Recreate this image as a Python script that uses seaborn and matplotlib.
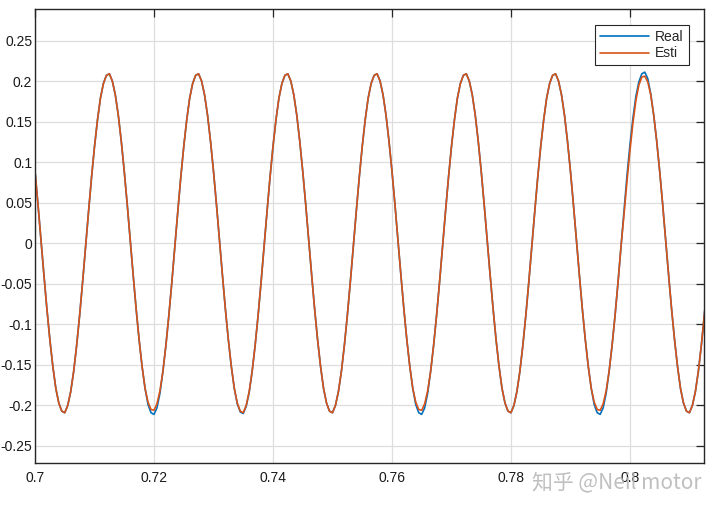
import numpy as np
import pandas as pd
import matplotlib
matplotlib.use("Agg")
import matplotlib.pyplot as plt
import seaborn as sns
from matplotlib.ticker import FuncFormatter

# time axis: one sample every 0.5 ms, from 0.700 s to 0.813 s
t_start = 0.700
t_step = 0.0005

# values, two lines per period (30 samples)
real = [
    0.089, 0.048, 0.004, -0.039, -0.081, -0.119, -0.152, -0.179, -0.197, -0.207, -0.209, -0.200, -0.183, -0.158, -0.126,
    -0.089, -0.048, -0.004, 0.039, 0.081, 0.119, 0.152, 0.179, 0.197, 0.207, 0.209, 0.200, 0.183, 0.158, 0.126,
    0.089, 0.048, 0.004, -0.039, -0.081, -0.119, -0.152, -0.179, -0.199, -0.209, -0.211, -0.203, -0.185, -0.158, -0.126,
    -0.089, -0.048, -0.004, 0.039, 0.081, 0.119, 0.152, 0.179, 0.197, 0.207, 0.209, 0.200, 0.183, 0.158, 0.126,
    0.089, 0.048, 0.004, -0.039, -0.081, -0.119, -0.152, -0.179, -0.198, -0.208, -0.210, -0.201, -0.184, -0.158, -0.126,
    -0.089, -0.048, -0.004, 0.039, 0.081, 0.119, 0.152, 0.179, 0.197, 0.207, 0.209, 0.200, 0.183, 0.158, 0.126,
    0.089, 0.048, 0.004, -0.039, -0.081, -0.119, -0.152, -0.179, -0.197, -0.207, -0.209, -0.200, -0.183, -0.158, -0.126,
    -0.089, -0.048, -0.004, 0.039, 0.081, 0.119, 0.152, 0.179, 0.197, 0.207, 0.209, 0.200, 0.183, 0.158, 0.126,
    0.089, 0.048, 0.004, -0.039, -0.081, -0.119, -0.152, -0.179, -0.199, -0.209, -0.211, -0.203, -0.185, -0.158, -0.126,
    -0.089, -0.048, -0.004, 0.039, 0.081, 0.119, 0.152, 0.179, 0.197, 0.207, 0.209, 0.200, 0.183, 0.158, 0.126,
    0.089, 0.048, 0.004, -0.039, -0.081, -0.119, -0.152, -0.179, -0.197, -0.207, -0.209, -0.200, -0.183, -0.158, -0.126,
    -0.089, -0.048, -0.004, 0.039, 0.081, 0.119, 0.152, 0.179, 0.197, 0.207, 0.209, 0.200, 0.183, 0.158, 0.126,
    0.089, 0.048, 0.004, -0.039, -0.081, -0.119, -0.152, -0.179, -0.199, -0.209, -0.211, -0.203, -0.185, -0.158, -0.126,
    -0.089, -0.048, -0.004, 0.041, 0.083, 0.121, 0.154, 0.181, 0.199, 0.209, 0.211, 0.203, 0.184, 0.158, 0.126,
    0.089, 0.048, 0.004, -0.039, -0.081, -0.119, -0.152, -0.179, -0.197, -0.207, -0.209, -0.200, -0.183, -0.158, -0.126,
    -0.089, -0.048,
]
esti = [
    0.089, 0.048, 0.004, -0.039, -0.081, -0.119, -0.152, -0.179, -0.197, -0.207, -0.209, -0.200, -0.183, -0.158, -0.126,
    -0.089, -0.048, -0.004, 0.039, 0.081, 0.119, 0.152, 0.179, 0.197, 0.207, 0.209, 0.200, 0.183, 0.158, 0.126,
    0.089, 0.048, 0.004, -0.039, -0.081, -0.119, -0.152, -0.179, -0.196, -0.205, -0.206, -0.198, -0.182, -0.158, -0.126,
    -0.089, -0.048, -0.004, 0.039, 0.081, 0.119, 0.152, 0.179, 0.197, 0.207, 0.209, 0.200, 0.183, 0.158, 0.126,
    0.089, 0.048, 0.004, -0.039, -0.081, -0.119, -0.152, -0.179, -0.197, -0.207, -0.209, -0.200, -0.183, -0.158, -0.126,
    -0.089, -0.048, -0.004, 0.039, 0.081, 0.119, 0.152, 0.179, 0.197, 0.207, 0.209, 0.200, 0.183, 0.158, 0.126,
    0.089, 0.048, 0.004, -0.039, -0.081, -0.119, -0.152, -0.179, -0.197, -0.207, -0.209, -0.200, -0.183, -0.158, -0.126,
    -0.089, -0.048, -0.004, 0.039, 0.081, 0.119, 0.152, 0.179, 0.197, 0.207, 0.209, 0.200, 0.183, 0.158, 0.126,
    0.089, 0.048, 0.004, -0.039, -0.081, -0.119, -0.152, -0.179, -0.196, -0.205, -0.206, -0.198, -0.182, -0.158, -0.126,
    -0.089, -0.048, -0.004, 0.039, 0.081, 0.119, 0.152, 0.179, 0.197, 0.207, 0.209, 0.200, 0.183, 0.158, 0.126,
    0.089, 0.048, 0.004, -0.039, -0.081, -0.119, -0.152, -0.179, -0.197, -0.207, -0.209, -0.200, -0.183, -0.158, -0.126,
    -0.089, -0.048, -0.004, 0.039, 0.081, 0.119, 0.152, 0.179, 0.197, 0.207, 0.209, 0.200, 0.183, 0.158, 0.126,
    0.089, 0.048, 0.004, -0.039, -0.081, -0.119, -0.152, -0.179, -0.196, -0.205, -0.206, -0.198, -0.182, -0.158, -0.126,
    -0.089, -0.048, -0.004, 0.035, 0.076, 0.114, 0.148, 0.176, 0.195, 0.205, 0.206, 0.199, 0.183, 0.158, 0.126,
    0.089, 0.048, 0.004, -0.039, -0.081, -0.119, -0.152, -0.179, -0.197, -0.207, -0.209, -0.200, -0.183, -0.158, -0.126,
    -0.089, -0.048,
]
x_ticks = [0.70, 0.72, 0.74, 0.76, 0.78, 0.80]
y_ticks = [-0.25, -0.2, -0.15, -0.1, -0.05, 0, 0.05, 0.1, 0.15, 0.2, 0.25]

t = t_start + t_step * np.arange(len(real))
df = pd.DataFrame({"t": t, "Real": real, "Esti": esti})

sns.set_style("white")
plt.rcParams["font.family"] = ["Liberation Sans", "DejaVu Sans"]

fig = plt.figure(figsize=(7.2, 5.09), dpi=100)
ax = fig.add_axes([35 / 720, 1 - 462.7 / 509, 668.7 / 720, 453.4 / 509])

sns.lineplot(data=df, x="t", y="Real", ax=ax, color="#0072BD", linewidth=1.2, label="Real")
sns.lineplot(data=df, x="t", y="Esti", ax=ax, color="#D95319", linewidth=1.2, label="Esti")

ax.set_xlim(0.7, 0.8124)
ax.set_ylim(-0.2706, 0.2885)
ax.set_xticks(x_ticks)
ax.set_yticks(y_ticks)
fmt = FuncFormatter(lambda v, p: "%g" % round(v, 4))
ax.xaxis.set_major_formatter(fmt)
ax.yaxis.set_major_formatter(fmt)
ax.set_xlabel("")
ax.set_ylabel("")

ax.grid(True, color="#dedede", linewidth=0.9)
ax.set_axisbelow(True)
for s in ax.spines.values():
    s.set_color("#262626")
    s.set_linewidth(1.0)
ax.tick_params(direction="in", length=6, width=0.9, colors="#262626",
               top=True, right=True, labelsize=10, labelcolor="#1a1a1a")
ax.tick_params(axis="x", pad=6)
ax.tick_params(axis="y", pad=2)

leg = ax.legend(loc="upper right", bbox_to_anchor=(1 - 15 / 669, 1 - 15.5 / 453),
                borderaxespad=0, fontsize=10, handlelength=3.5, handletextpad=0.45,
                borderpad=0.35, labelspacing=0.2, fancybox=False, framealpha=1)
leg.get_frame().set_edgecolor("#262626")
leg.get_frame().set_linewidth(0.8)

# watermark
fig.text(702 / 720, 1 - 482 / 509, "知乎 @Neil motor", ha="right", va="center",
         fontsize=15, color="#b4b4b4", alpha=0.85,
         family=["Noto Sans CJK SC", "DejaVu Sans"])

fig.savefig("out.png", dpi=100)
